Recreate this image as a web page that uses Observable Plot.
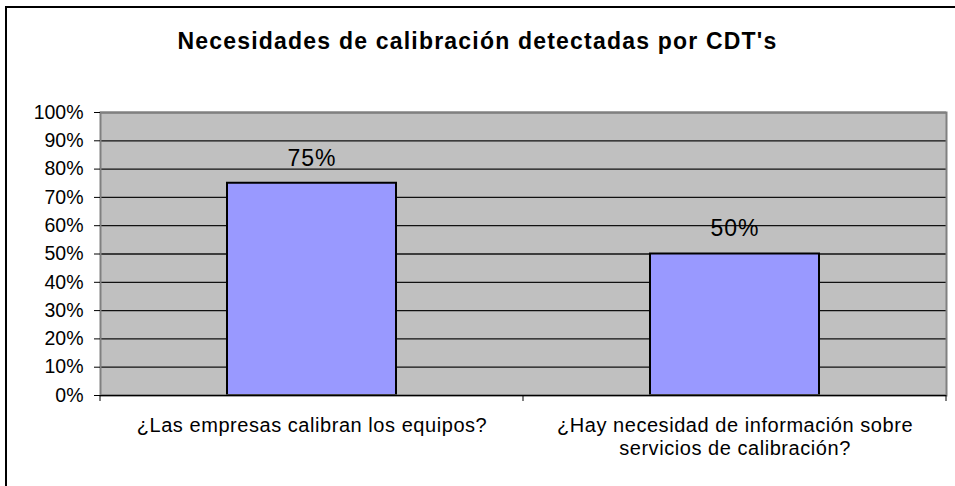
<!DOCTYPE html>
<html>
<head>
<meta charset="utf-8">
<script src="https://cdn.jsdelivr.net/npm/d3@7"></script>
<script src="https://cdn.jsdelivr.net/npm/@observablehq/plot@0.6"></script>
<style>
  html, body { margin: 0; padding: 0; background: #fff; }
  #wrap { position: relative; width: 955px; height: 486px; overflow: hidden; font-family: "Liberation Sans", Arial, sans-serif; }
  #border { position: absolute; left: 5px; top: 6px; width: 960px; height: 490px; border: 2px solid #000; box-sizing: border-box; }
  #title { position: absolute; left: 0; top: 28px; width: 955px; text-align: center; font-weight: bold; font-size: 23px; letter-spacing: 1.2px; color: #000; }
  #chart { position: absolute; left: 0; top: 0; }
  #chart g[aria-label="x-axis tick label"] text { letter-spacing: 0.55px; }
  #chart g[aria-label="text"] text { letter-spacing: 1px; }
</style>
</head>
<body>
<div id="wrap">
  <div id="border"></div>
  <div id="chart"></div>
  <div id="title">Necesidades de calibración detectadas por CDT's</div>
</div>
<script>
const categories = [
  "¿Las empresas calibran los equipos?",
  "¿Hay necesidad de información sobre\nservicios de calibración?"
];
const values = [0.75, 0.50];
const yTicks = [0, 0.1, 0.2, 0.3, 0.4, 0.5, 0.6, 0.7, 0.8, 0.9, 1.0];

const data = categories.map((c, i) => ({category: c, value: values[i]}));
const pct = d3.format(".0%");

function boundaryTicks(index, scales, values, dims, context) {
  const g = d3.create("svg:g");
  const x0 = dims.marginLeft, x1 = dims.width - dims.marginRight;
  const y = dims.height - dims.marginBottom;
  const n = categories.length;
  for (let i = 0; i <= n; i++) {
    const x = x0 + (x1 - x0) * i / n;
    g.append("line").attr("x1", x).attr("x2", x).attr("y1", y).attr("y2", y + 6)
      .attr("stroke", "#000").attr("stroke-width", 1);
  }
  return g.node();
}

const chart = Plot.plot({
  width: 955,
  height: 486,
  marginLeft: 100,
  marginRight: 9,
  marginTop: 112,
  marginBottom: 91,
  style: {fontFamily: "'Liberation Sans', Arial, sans-serif", color: "#000", background: "transparent", overflow: "visible"},
  x: {domain: categories, paddingInner: 0.6, paddingOuter: 0.3, label: null},
  y: {domain: [0, 1], label: null},
  marks: [
    Plot.frame({fill: "#c0c0c0", stroke: null}),
    Plot.ruleY(yTicks, {stroke: "#111", strokeWidth: 1.3}),
    Plot.barY(data, {x: "category", y: "value", fill: "#9999ff", stroke: "#000", strokeWidth: 2}),
    Plot.text(data, {x: "category", y: "value", text: d => pct(d.value), dy: -25, fontSize: 23, fill: "#000"}),
    Plot.frame({stroke: "#808080", strokeWidth: 2}),
    Plot.axisY({ticks: yTicks, tickFormat: pct, tickSize: 6, tickPadding: 11, fontSize: 19.5, stroke: "#000"}),
    Plot.axisX({tickSize: 0, tickPadding: 20, fontSize: 20, lineHeight: 1.15, label: null}),
    Plot.ruleY([0], {stroke: "#000", strokeWidth: 1}),
    boundaryTicks
  ]
});
document.getElementById("chart").appendChild(chart);
</script>
</body>
</html>
